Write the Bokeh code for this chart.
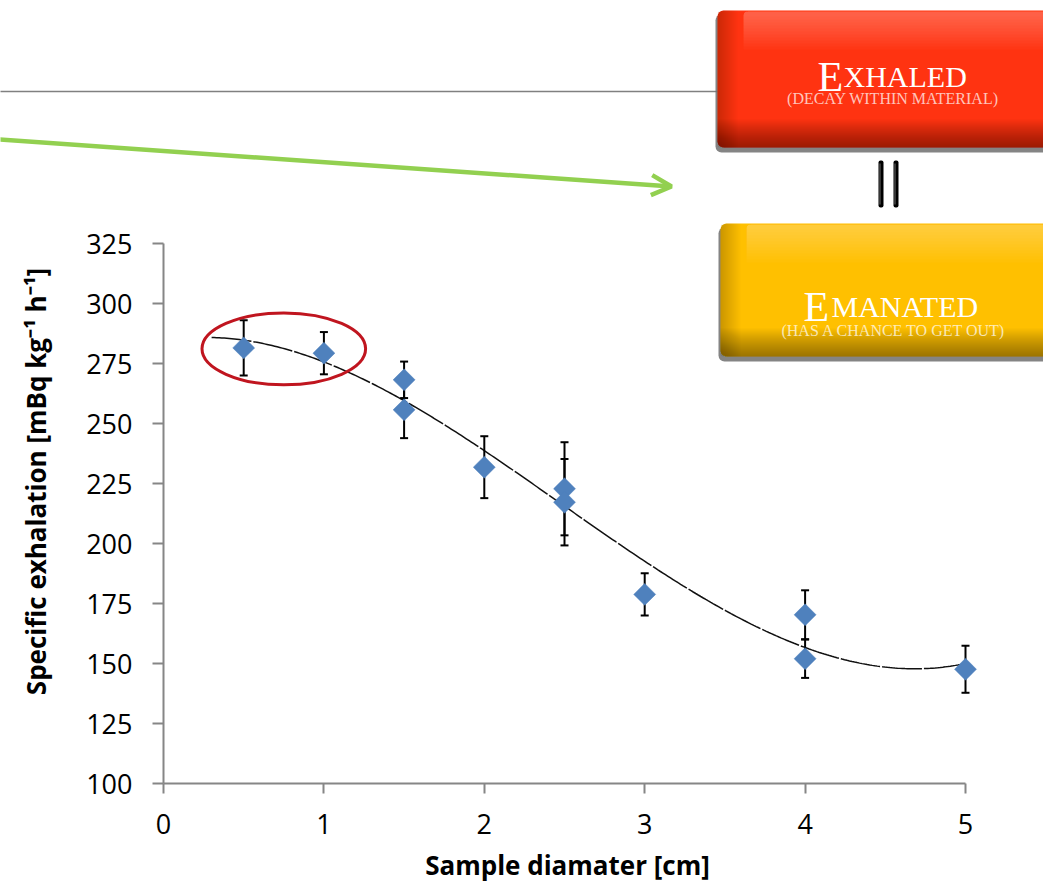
import numpy as np
from bokeh.plotting import figure
from bokeh.models import Range1d, Label, BoxAnnotation, Arrow, OpenHead
from bokeh.embed import file_html
from bokeh.resources import INLINE

# ---------------- data ----------------
diameter = [0.5, 1.0, 1.5, 1.5, 2.0, 2.5, 2.5, 3.0, 4.0, 4.0, 5.0]
exhalation = [281.5, 279.3, 268.2, 255.7, 231.8, 222.8, 217.2, 178.8, 170.3, 152.0, 147.6]
error = [11.5, 8.8, 7.6, 11.8, 12.9, 19.4, 18.0, 8.8, 10.2, 8.0, 9.8]
x_ticks = [0, 1, 2, 3, 4, 5]
y_ticks = [100, 125, 150, 175, 200, 225, 250, 275, 300, 325]
x_bounds = (0, 5)
y_bounds = (100, 325)
trend_order = 3
trend_start = 0.3
highlighted = [0, 1]          # points circled in red

x_title = "Sample diamater [cm]"
y_title = "Specific exhalation [mBq kg\u207b\u00b9 h\u207b\u00b9]"
box1_title = ("E", "XHALED")
box1_sub = "(DECAY WITHIN MATERIAL)"
box2_title = ("E", "MANATED")
box2_sub = "(HAS A CHANCE TO GET OUT)"

# ---------------- layout helpers (page pixel -> data coordinate) ----------------
W, H = 1043, 885
X0_PX, X_PER_UNIT = 163, 160.4      # x = 0 at 163 px, 160.4 px per cm
Y0_PX, Y_PER_UNIT = 783, 2.4        # y = 100 at 783 px, 2.4 px per unit


def X(px):
    return (px - X0_PX) / X_PER_UNIT


def Y(py):
    return 100 + (Y0_PX - py) / Y_PER_UNIT


p = figure(width=W, height=H, x_range=Range1d(X(0), X(W)), y_range=Range1d(Y(H), Y(0)),
           output_backend="svg", toolbar_location=None, title=None, min_border=0)
p.xgrid.visible = False
p.ygrid.visible = False
p.outline_line_color = None
p.background_fill_color = "white"
p.border_fill_color = "white"

axis_grey = "#868686"
for ax in (p.xaxis[0], p.yaxis[0]):
    ax.axis_line_color = axis_grey
    ax.axis_line_width = 2
    ax.major_tick_line_color = axis_grey
    ax.major_tick_line_width = 2
    ax.major_tick_in = 0
    ax.minor_tick_line_color = None
    ax.major_label_text_font = "Open Sans"
    ax.major_label_text_font_size = "27px"
    ax.major_label_text_color = "#000000"
p.xaxis.ticker = x_ticks
p.yaxis.ticker = y_ticks
p.xaxis.bounds = x_bounds
p.yaxis.bounds = y_bounds
p.xaxis.fixed_location = y_bounds[0]
p.yaxis.fixed_location = x_bounds[0]
p.xaxis.major_tick_out = 10
p.yaxis.major_tick_out = 11
p.yaxis.major_label_standoff = 20
p.xaxis.major_label_standoff = 20

p.add_layout(Label(x=X(567), y=Y(864), text=x_title, text_align="center",
                   text_baseline="alphabetic", text_font="Open Sans",
                   text_font_style="bold", text_font_size="26px", text_color="#000000"))
p.add_layout(Label(x=X(35), y=Y(481), text=y_title, angle=np.pi / 2,
                   text_align="center", text_baseline="middle",
                   text_font="Open Sans", text_font_style="bold",
                   text_font_size="26px", text_color="#000000"))

# ---------------- trendline ----------------
coef = np.polyfit(diameter, exhalation, trend_order)
tx = np.linspace(trend_start, max(diameter), 300)
ty = np.polyval(coef, tx)
p.line(tx, ty, line_color="#111111", line_width=1.5, line_dash="40 2")

# ---------------- error bars ----------------
lower = [v - e for v, e in zip(exhalation, error)]
upper = [v + e for v, e in zip(exhalation, error)]
p.segment(x0=diameter, y0=lower, x1=diameter, y1=upper,
          line_color="#000000", line_width=2)
p.scatter(x=diameter + diameter, y=lower + upper, marker="dash", size=8,
          line_color="#000000", line_width=2)

# ---------------- points ----------------
p.scatter(x=diameter, y=exhalation, marker="square", angle=np.pi / 4, size=15.5,
          fill_color="#4F81BD", line_color="#4F81BD", line_width=0.5)

# ---------------- red ellipse highlight ----------------
cx = float(np.mean([diameter[i] for i in highlighted]))
cy = float(np.mean([exhalation[i] for i in highlighted])) + 0.7
p.ellipse(x=[cx], y=[cy], width=1.02, height=30, fill_color=None,
          line_color="#C0151F", line_width=3)

# ---------------- decorations ----------------
p.add_layout(Arrow(end=None, x_start=X(-5), y_start=Y(91), x_end=X(717), y_end=Y(91),
                   line_color="#808080", line_width=1.5))
green = "#92D050"
p.add_layout(Arrow(end=OpenHead(size=20, line_color=green, line_width=4.5),
                   x_start=X(-10), y_start=Y(138.3), x_end=X(671), y_end=Y(186),
                   line_color=green, line_width=4.5))


def glossy_box(left, top, bottom, color):
    right = 1070
    # drop shadow
    p.add_layout(BoxAnnotation(left=X(left - 2), right=X(right), top=Y(top + 4), bottom=Y(bottom + 5),
                               fill_color="#6E6E6E", fill_alpha=0.85, line_color=None,
                               border_radius=6))
    # body
    p.add_layout(BoxAnnotation(left=X(left), right=X(right), top=Y(top), bottom=Y(bottom),
                               fill_color=color, fill_alpha=1.0, line_color=None,
                               border_radius=6))
    # top gloss (soft, many thin overlapping layers)
    for b in range(6, 40, 3):
        p.add_layout(BoxAnnotation(left=X(left + 26), right=X(right), top=Y(top + 1),
                                   bottom=Y(top + b), fill_color="white", fill_alpha=0.025,
                                   line_color=None, border_radius=(4, 0, 0, 0)))
    # bottom shade
    for t in range(2, 30, 2):
        p.add_layout(BoxAnnotation(left=X(left), right=X(right), top=Y(bottom - t),
                                   bottom=Y(bottom), fill_color="black", fill_alpha=0.03,
                                   line_color=None, border_radius=(0, 0, 0, 6)))
    # left edge shade
    for w in range(2, 22, 2):
        p.add_layout(BoxAnnotation(left=X(left), right=X(left + w), top=Y(top),
                                   bottom=Y(bottom), fill_color="black", fill_alpha=0.018,
                                   line_color=None, border_radius=(6, 0, 0, 6)))


def box_text(big, rest, x_big, x_rest, base, sub, sub_x, sub_base):
    p.add_layout(Label(x=X(x_big), y=Y(base), text=big, text_align="left",
                       text_baseline="alphabetic", text_font="Liberation Serif",
                       text_font_size="42px", text_color="white"))
    p.add_layout(Label(x=X(x_rest), y=Y(base), text=rest, text_align="left",
                       text_baseline="alphabetic", text_font="Liberation Serif",
                       text_font_size="30px", text_color="white"))
    p.add_layout(Label(x=X(sub_x), y=Y(sub_base), text=sub, text_align="center",
                       text_baseline="alphabetic", text_font="Liberation Serif",
                       text_font_size="16px", text_color="white", text_alpha=0.72))


glossy_box(717, 10, 147, "#FF3311")
box_text(box1_title[0], box1_title[1], 817, 843, 76, box1_sub, 892.5, 98)

glossy_box(720, 223, 356, "#FFC000")
box_text(box2_title[0], box2_title[1], 803, 831, 306, box2_sub, 893.5, 330)

# connector bars between the two boxes
for bl in (878, 893):
    p.add_layout(BoxAnnotation(left=X(bl), right=X(bl + 5), top=Y(160), bottom=Y(207),
                               fill_color="#000000", fill_alpha=1.0, line_color=None,
                               border_radius=2))
    p.add_layout(BoxAnnotation(left=X(bl + 1), right=X(bl + 2), top=Y(163), bottom=Y(204),
                               fill_color="#9A9A9A", fill_alpha=0.7, line_color=None))

open("out.html", "w").write(file_html(p, INLINE))
